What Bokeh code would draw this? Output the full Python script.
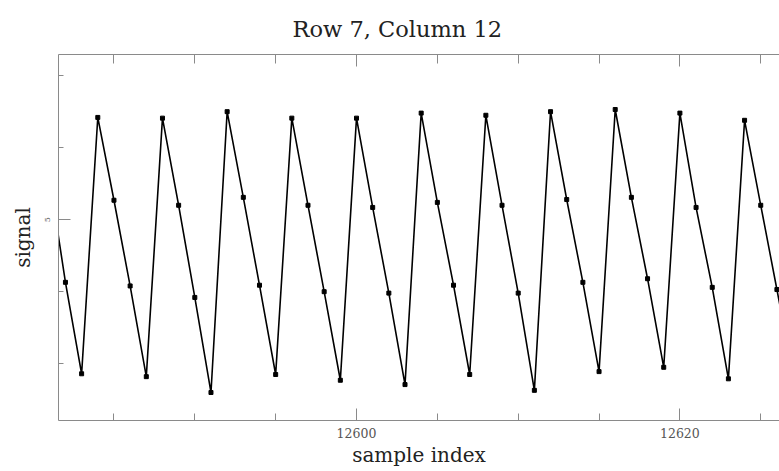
from bokeh.plotting import figure
from bokeh.models import LinearAxis, SingleIntervalTicker, Range1d, ColumnDataSource, CustomJSTickFormatter
from bokeh.embed import file_html
from bokeh.resources import INLINE

# ---- data ----
sample_index = list(range(12581, 12628))
signal = [5.60, 4.13, 2.86, 6.42, 5.27, 4.08, 2.82, 6.41, 5.20, 3.92,
          2.60, 6.50, 5.31, 4.09, 2.85, 6.41, 5.20, 4.00, 2.77, 6.41,
          5.17, 3.98, 2.71, 6.48, 5.24, 4.09, 2.85, 6.45, 5.20, 3.98,
          2.63, 6.50, 5.28, 4.13, 2.89, 6.53, 5.31, 4.18, 2.95, 6.48,
          5.17, 4.06, 2.79, 6.38, 5.20, 4.03, 2.85]
x_tick_interval = 20
y_tick_interval = 5

title_text = "Row 7, Column 12"
x_label = "sample index"
y_label = "signal"

FONT = "DejaVu Serif"
AXIS_COLOR = "#8a8a8a"

src = ColumnDataSource(dict(x=sample_index, y=signal))

p = figure(width=779, height=471,
           x_range=Range1d(12581.57, 12626.16),
           y_range=Range1d(2.211, 7.294),
           output_backend="svg", toolbar_location=None,
           min_border_left=58, min_border_right=0,
           min_border_top=54, min_border_bottom=51)

p.background_fill_color = "white"
p.border_fill_color = "white"
p.outline_line_color = None
p.grid.visible = False

p.line("x", "y", source=src, line_color="black", line_width=1.6)
p.scatter("x", "y", source=src, marker="square", size=4,
          fill_color="black", line_color="black")

# title
p.title.text = title_text
p.title.align = "left"
p.title.offset = 234
p.title.standoff = 26
p.title.text_font = FONT
p.title.text_font_size = "22.5px"
p.title.text_font_style = "normal"
p.title.text_color = "#222222"

xt = SingleIntervalTicker(interval=x_tick_interval, num_minor_ticks=4)
yt = SingleIntervalTicker(interval=y_tick_interval, num_minor_ticks=5)

def style_axis(ax):
    ax.axis_line_color = AXIS_COLOR
    ax.axis_line_width = 1
    ax.major_tick_line_color = AXIS_COLOR
    ax.minor_tick_line_color = AXIS_COLOR
    ax.major_tick_out = 0
    ax.minor_tick_out = 0
    ax.major_tick_in = 12
    ax.minor_tick_in = 7

xa = p.xaxis[0]
xa.ticker = xt
style_axis(xa)
xa.major_label_text_font = FONT
xa.major_label_text_font_size = "12.5px"
xa.major_label_text_color = "#555555"
xa.major_label_standoff = 7
xa.axis_label = x_label
xa.axis_label_text_font = FONT
xa.axis_label_text_font_size = "20px"
xa.axis_label_text_font_style = "normal"
xa.axis_label_text_color = "#222222"
xa.axis_label_standoff = 2

ya = p.yaxis[0]
ya.ticker = yt
style_axis(ya)
ya.minor_tick_in = 5
ya.major_label_orientation = "vertical"
ya.major_label_text_font = FONT
ya.major_label_text_font_size = "8px"
ya.major_label_text_color = "#555555"
ya.major_label_standoff = 8
ya.axis_label = y_label
ya.axis_label_text_font = FONT
ya.axis_label_text_font_size = "20px"
ya.axis_label_text_font_style = "normal"
ya.axis_label_text_color = "#222222"
ya.axis_label_standoff = 8

top = LinearAxis(ticker=SingleIntervalTicker(interval=x_tick_interval, num_minor_ticks=4),
                 formatter=CustomJSTickFormatter(code="return ''"))
style_axis(top)
top.minor_tick_in = 9
top.major_label_standoff = 0
p.add_layout(top, "above")

open("out.html", "w").write(file_html(p, INLINE))
